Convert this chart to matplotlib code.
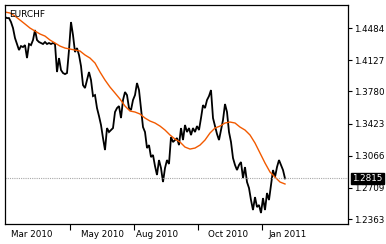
import numpy as np
import matplotlib
matplotlib.use("Agg")
import matplotlib.pyplot as plt
from matplotlib.ticker import FixedLocator, NullFormatter, FixedFormatter

symbol = "EURCHF"
last_price = 1.2815

closes = [
    1.4606, 1.4595, 1.4595, 1.4551, 1.4484, 1.4373, 1.4307, 1.4240, 1.4284, 1.4273,
    1.4295, 1.4151, 1.4307, 1.4295, 1.4351, 1.4462, 1.4351, 1.4329, 1.4318, 1.4307,
    1.4329, 1.4307, 1.4318, 1.4307, 1.4318, 1.4307, 1.3996, 1.4151, 1.4018, 1.3985,
    1.3973, 1.3985, 1.4240, 1.4551, 1.4406, 1.4218, 1.4262, 1.4185, 1.4062, 1.3851,
    1.3818, 1.3907, 1.3996, 1.3907, 1.3729, 1.3740, 1.3596, 1.3507, 1.3408, 1.3263,
    1.3130, 1.3374, 1.3330, 1.3352, 1.3374, 1.3552, 1.3596, 1.3618, 1.3485, 1.3685,
    1.3774, 1.3740, 1.3596, 1.3574, 1.3685, 1.3740, 1.3874, 1.3796, 1.3596, 1.3385,
    1.3330, 1.3152, 1.3185, 1.3052, 1.3075, 1.2952, 1.2853, 1.3019, 1.2930, 1.2775,
    1.2930, 1.3019, 1.2975, 1.3274, 1.3219, 1.3241, 1.3263, 1.3185, 1.3374, 1.3241,
    1.3408, 1.3330, 1.3374, 1.3296, 1.3374, 1.3330, 1.3396, 1.3352, 1.3485, 1.3629,
    1.3596, 1.3685, 1.3729, 1.3796, 1.3485, 1.3396, 1.3308, 1.3241, 1.3352, 1.3463,
    1.3641, 1.3552, 1.3330, 1.3219, 1.3041, 1.2964, 1.2908, 1.2964, 1.2997, 1.2819,
    1.2941, 1.2775, 1.2708, 1.2575, 1.2464, 1.2608, 1.2497, 1.2520, 1.2431, 1.2597,
    1.2464, 1.2653, 1.2575, 1.2742, 1.2908, 1.2830, 1.2941, 1.3019, 1.2964, 1.2908,
    1.2815,
]

# moving average, sampled every 2.5 bars
ma_values = [
    1.4662, 1.4651, 1.4617, 1.4573, 1.4529, 1.4484, 1.4451, 1.4418, 1.4395, 1.4351,
    1.4318, 1.4284, 1.4262, 1.4251, 1.4240, 1.4229, 1.4185, 1.4151, 1.4096, 1.3996,
    1.3907, 1.3829, 1.3763, 1.3696, 1.3618, 1.3563, 1.3552, 1.3530, 1.3485, 1.3452,
    1.3430, 1.3396, 1.3352, 1.3297, 1.3252, 1.3219, 1.3163, 1.3141, 1.3152, 1.3185,
    1.3241, 1.3319, 1.3374, 1.3396, 1.3430, 1.3441, 1.3430, 1.3385, 1.3352, 1.3297,
    1.3208, 1.3097, 1.2986, 1.2886, 1.2830, 1.2775, 1.2753,
]
ma_step = 2.5

y_ticks = [1.4484, 1.4127, 1.3780, 1.3423, 1.3066, 1.2709, 1.2363]
x_tick_marks = [32.5, 64.5, 96.5, 128.5]
x_label_pos = [13.5, 48.5, 76.0, 111.5, 141.5]
x_labels = ["Mar 2010", "May 2010", "Aug 2010", "Oct 2010", "Jan 2011"]

plt.rcParams['font.family'] = ['DejaVu Sans']
fig = plt.figure(figsize=(3.86, 2.44), dpi=100)
ax = fig.add_axes([5/386, 20/244, 343/386, 219/244])

x = np.arange(len(closes))
ax.plot(x, closes, color='black', lw=1.3, solid_joinstyle='miter')
xm = np.arange(len(ma_values)) * ma_step
ax.plot(xm, ma_values, color='#f25a00', lw=1.0)

ax.axhline(last_price, color='#a8a8a8', lw=0.8, ls=(0, (1, 1)))

ax.set_xlim(0, 171.5)
ax.set_ylim(1.2309, 1.4740)

ax.yaxis.tick_right()
ax.set_yticks(y_ticks)
ax.set_yticklabels([f"{v:.4f}" for v in y_ticks])
ax.tick_params(axis='y', direction='out', length=3, width=0.8, pad=1,
               labelsize=6.3, colors='black')

ax.xaxis.set_major_locator(FixedLocator(x_tick_marks))
ax.xaxis.set_major_formatter(NullFormatter())
ax.xaxis.set_minor_locator(FixedLocator(x_label_pos))
ax.xaxis.set_minor_formatter(FixedFormatter(x_labels))
ax.tick_params(axis='x', which='major', direction='out', length=4, width=0.8)
ax.tick_params(axis='x', which='minor', length=0, pad=4, labelsize=6.3)

for s in ax.spines.values():
    s.set_linewidth(0.9)
    s.set_color('black')

ax.text(0.012, 0.978, symbol, transform=ax.transAxes, ha='left', va='top',
        fontsize=6.5, color='black')

ax.text(1.012, last_price, f"{last_price:.4f}", transform=ax.get_yaxis_transform(),
        ha='left', va='center', fontsize=6.3, color='white',
        bbox=dict(boxstyle='square,pad=0.12', fc='black', ec='black'))

fig.savefig("out.png", dpi=100, facecolor='white')
